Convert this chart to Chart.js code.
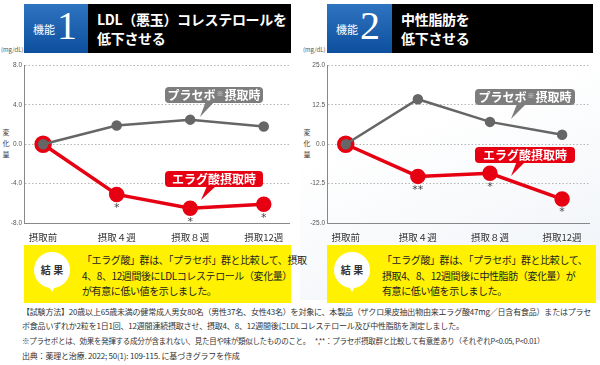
<!DOCTYPE html>
<html lang="ja">
<head>
<meta charset="utf-8">
<script src="https://cdn.jsdelivr.net/npm/chart.js@4.4.1/dist/chart.umd.min.js"></script>
<style>
  html, body { margin: 0; padding: 0; }
  body {
    width: 600px; height: 365px; position: relative; overflow: hidden;
    background: #fff;
    font-family: "Noto Sans CJK JP", "Noto Sans", sans-serif;
    color: #222;
  }
  .abs { position: absolute; }
  .blue {
    background: linear-gradient(#2f74c0, #0d4f9e);
    color: #fff;
  }
  .blue .kino { position: absolute; left: 9px; top: 17px; font-size: 11px; }
  .blue .num { position: absolute; left: 33px; top: -2px; font-family: "Liberation Serif", serif; font-size: 40px; }
  .black { background: #000; color: #fff; font-size: 14px; font-weight: bold; line-height: 19px; padding: 6px 0 0 9px; box-sizing: border-box; white-space: nowrap; letter-spacing: -0.3px; }
  .unit { font-size: 6px; color: #555; }
  .vlab { font-size: 7px; color: #333; width: 8px; line-height: 11px; text-align: center; }
  canvas { position: absolute; }
  .call { border-radius: 4px; color: #fff; font-weight: bold; font-size: 12px; text-align: center; line-height: 16px; white-space: nowrap; }
  .call .mk { font-size: 7px; color: #e0e0e0; position: relative; top: -4px; font-weight: normal; margin: 0 1px; }
  .gray { background: #7d7d7d; }
  .red { background: #e60012; }
  .yel { background: #fff100; }
  .bubble { width: 36px; height: 36px; border-radius: 50%; background: #fff; font-size: 10px; font-weight: bold; text-align: center; line-height: 36px; color: #333; }
  .res { font-size: 10px; line-height: 15.5px; color: #222; white-space: nowrap; letter-spacing: -0.4px; }
  .foot { white-space: nowrap; color: #333; }
</style>
</head>
<body>
<!-- faint background art on the right -->
<div class="abs" style="left:300px;top:0;width:300px;height:300px;background:linear-gradient(160deg,#ffffff 40%,#eef2f7 100%);"></div>

<!-- headers -->
<div class="abs blue" style="left:24px;top:4px;width:64px;height:49px;"><span class="kino">機能</span><span class="num">1</span></div>
<div class="abs black" style="left:88px;top:4px;width:203px;height:49px;">LDL（悪玉）コレステロールを<br>低下させる</div>
<div class="abs blue" style="left:327px;top:4px;width:65px;height:49px;"><span class="kino">機能</span><span class="num">2</span></div>
<div class="abs black" style="left:392px;top:4px;width:201px;height:49px;">中性脂肪を<br>低下させる</div>

<div class="abs unit" style="left:1px;top:45px;">(mg/dL)</div>
<div class="abs unit" style="left:303px;top:45px;">(mg/dL)</div>
<div class="abs vlab" style="left:2px;top:127px;">変<br>化<br>量</div>
<div class="abs vlab" style="left:303px;top:127px;">変<br>化<br>量</div>

<canvas id="c1" width="300" height="190" style="left:0;top:55px;"></canvas>
<canvas id="c2" width="300" height="190" style="left:300px;top:55px;"></canvas>

<!-- callouts -->
<div class="abs" style="left:200px;top:100px;width:16px;height:17px;background:#7d7d7d;clip-path:polygon(40% 0,100% 0,0 100%);"></div>
<div class="abs call gray" style="left:165px;top:87px;width:98px;height:16px;">プラセボ<span class="mk">※</span>摂取時</div>
<div class="abs" style="left:201px;top:185px;width:16px;height:15px;background:#e60012;clip-path:polygon(40% 0,100% 0,0 100%);"></div>
<div class="abs call red" style="left:165px;top:171px;width:98px;height:16px;">エラグ酸摂取時</div>

<div class="abs" style="left:511px;top:103px;width:16px;height:16px;background:#7d7d7d;clip-path:polygon(40% 0,100% 0,0 100%);"></div>
<div class="abs call gray" style="left:475px;top:89px;width:100px;height:16px;">プラセボ<span class="mk">※</span>摂取時</div>
<div class="abs" style="left:511px;top:160px;width:16px;height:16px;background:#e60012;clip-path:polygon(40% 0,100% 0,0 100%);"></div>
<div class="abs call red" style="left:475px;top:147px;width:100px;height:16px;">エラグ酸摂取時</div>

<!-- result boxes -->
<div class="abs yel" style="left:24px;top:245px;width:267px;height:58px;"></div>
<div class="abs" style="left:47px;top:283px;width:10px;height:9px;background:#fff;clip-path:polygon(0 0,100% 0,50% 100%);"></div>
<div class="abs bubble" style="left:34px;top:252px;">結 果</div>
<div class="abs res" style="left:82px;top:252px;">「エラグ酸」群は、「プラセボ」群と比較して、摂取<br>4、8、12週間後にLDLコレステロール（変化量）<br>が有意に低い値を示しました。</div>

<div class="abs yel" style="left:327px;top:245px;width:269px;height:58px;"></div>
<div class="abs" style="left:347px;top:283px;width:10px;height:9px;background:#fff;clip-path:polygon(0 0,100% 0,50% 100%);"></div>
<div class="abs bubble" style="left:334px;top:252px;">結 果</div>
<div class="abs res" style="left:382px;top:252px;">「エラグ酸」群は、「プラセボ」群と比較して、<br>摂取4、8、12週間後に中性脂肪（変化量）が<br>有意に低い値を示しました。</div>

<!-- footnotes -->
<div class="abs foot" style="left:22px;top:306px;font-size:8px;letter-spacing:-0.2px;">【試験方法】20歳以上65歳未満の健常成人男女80名（男性37名、女性43名）を対象に、本製品（ザクロ果皮抽出物由来エラグ酸47mg／日含有食品）またはプラセ</div>
<div class="abs foot" style="left:22px;top:320px;font-size:8px;letter-spacing:-0.2px;">ボ食品いずれか2粒を1日1回、12週間連続摂取させ、摂取4、8、12週間後にLDLコレステロール及び中性脂肪を測定しました。</div>
<div class="abs foot" style="left:22px;top:335px;font-size:7.5px;letter-spacing:-0.3px;">※プラセボとは、効果を発揮する成分が含まれない、見た目や味が類似したもののこと。　 *,**：プラセボ摂取群と比較して有意差あり（それぞれP&lt;0.05, P&lt;0.01）</div>
<div class="abs foot" style="left:22px;top:350px;font-size:8px;letter-spacing:-0.2px;">出典：薬理と治療. 2022; 50(1): 109-115. に基づきグラフを作成</div>

<script>
// categories and values
const categories = ['摂取前', '摂取４週', '摂取８週', '摂取12週'];

const ldlPlacebo = [0, 1.9, 2.5, 1.8];
const ldlEllagic = [0, -5.1, -6.5, -6.1];
const ldlMarks = ['', '*', '*', '*'];
const ldlTicks = [-8, -4, 0, 4, 8];

const tgPlacebo = [0, 14.3, 7.1, 3.0];
const tgEllagic = [0, -10.2, -9.2, -17.4];
const tgMarks = ['', '**', '*', '*'];
const tgTicks = [-25, -12.5, 0, 12.5, 25];

const toPoints = arr => arr.map((v, i) => ({ x: i, y: v }));

// draws the significance asterisks under the red points
const starPlugin = {
    id: 'stars',
    afterDatasetsDraw(chart, args, opts) {
        const ctx = chart.ctx;
        const meta = chart.getDatasetMeta(1);
        ctx.save();
        ctx.fillStyle = '#444';
        ctx.font = '11px "DejaVu Sans"';
        ctx.textAlign = 'center';
        ctx.textBaseline = 'top';
        meta.data.forEach((pt, i) => {
            if (opts.marks[i]) ctx.fillText(opts.marks[i], pt.x, pt.y + 8);
        });
        ctx.restore();
    }
};

const makeChart = (id, placebo, ellagic, marks, ticks, yWidth, xMax, padRight) => {
    const step = ticks[1] - ticks[0];
    return new Chart(document.getElementById(id), {
        type: 'line',
        data: {
            datasets: [{
                data: toPoints(placebo),
                borderColor: '#666', backgroundColor: '#666',
                borderWidth: 2.5, pointRadius: 4, pointHoverRadius: 4
            }, {
                data: toPoints(ellagic),
                borderColor: '#e60012', backgroundColor: '#e60012',
                borderWidth: 3.5, pointRadius: [7, 6, 6, 6], pointHoverRadius: 6
            }]
        },
        options: {
            responsive: false, animation: false,
            layout: { padding: { top: 7, right: padRight, left: 0, bottom: 0 } },
            plugins: { legend: { display: false }, tooltip: { enabled: false }, stars: { marks } },
            scales: {
                x: {
                    type: 'linear', min: -0.26, max: xMax,
                    afterFit: (s) => { s.height = 22; },
                    afterBuildTicks: (s) => { s.ticks = categories.map((c, i) => ({ value: i })); },
                    ticks: {
                        callback: (v) => categories[v],
                        color: '#333', font: { size: 9.5, family: '"Noto Sans CJK JP"' }, padding: 1,
                        maxRotation: 0, autoSkip: false
                    },
                    grid: { display: false },
                    border: { color: '#888', width: 1 }
                },
                y: {
                    min: ticks[0], max: ticks[ticks.length - 1],
                    afterFit: (s) => { s.width = yWidth; },
                    afterBuildTicks: (s) => { s.ticks = ticks.map(v => ({ value: v })); },
                    ticks: {
                        stepSize: step,
                        callback: (v) => v.toFixed(1),
                        color: '#555', font: { size: 6.5, family: '"Liberation Sans"' }, padding: 2
                    },
                    grid: { color: '#b5b5b5', lineWidth: 1, drawTicks: false },
                    border: { color: '#888', width: 1, dash: [1.5, 2] }
                }
            }
        },
        plugins: [starPlugin]
    });
};

makeChart('c1', ldlPlacebo, ldlEllagic, ldlMarks, ldlTicks, 24, 3.35, 10);
makeChart('c2', tgPlacebo, tgEllagic, tgMarks, tgTicks, 27, 3.38, 7);
</script>
</body>
</html>
